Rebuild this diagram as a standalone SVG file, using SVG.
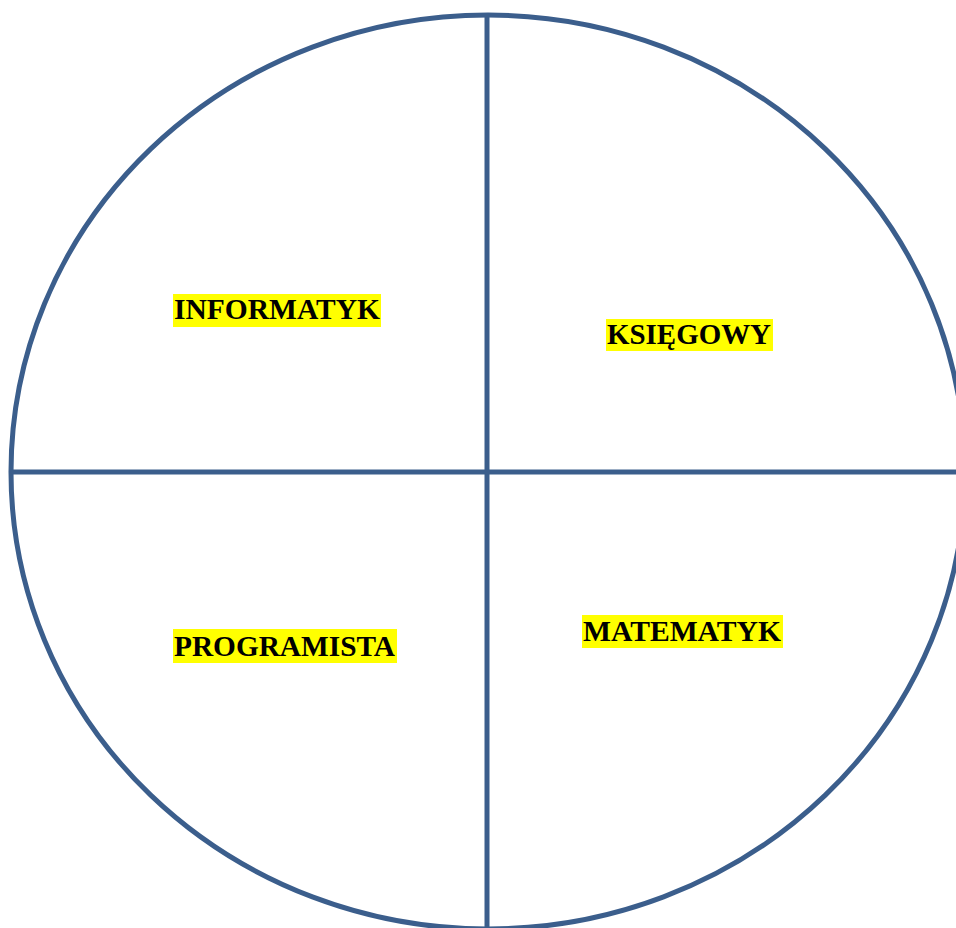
<svg xmlns="http://www.w3.org/2000/svg" width="956" height="928" viewBox="0 0 956 928">
<style>
.ln{stroke:#3B5E8C;stroke-width:5;fill:none}
.hl{fill:#FFFF00}
.lb{font-family:"Liberation Serif","Times New Roman",serif;font-weight:bold;font-size:29.5px;fill:#000}
</style>
<rect width="956" height="928" fill="#fff"/>
<g id="connectors">
<ellipse class="ln" cx="488" cy="472" rx="477" ry="457"/>
<line class="ln" x1="487" y1="15" x2="487" y2="930"/>
<line class="ln" x1="11" y1="472" x2="960" y2="472"/>
</g>
<g id="informatyk">
<rect class="hl" x="173" y="294" width="208" height="33"/>
<text class="lb" x="174" y="319" textLength="206" lengthAdjust="spacingAndGlyphs">INFORMATYK</text>
</g>
<g id="ksiegowy">
<rect class="hl" x="606" y="319" width="167" height="32"/>
<text class="lb" x="607" y="344" textLength="164" lengthAdjust="spacingAndGlyphs">KSIĘGOWY</text>
</g>
<g id="programista">
<rect class="hl" x="173" y="629" width="224" height="34"/>
<text class="lb" x="174" y="656" textLength="221" lengthAdjust="spacingAndGlyphs">PROGRAMISTA</text>
</g>
<g id="matematyk">
<rect class="hl" x="582" y="615" width="201" height="33"/>
<text class="lb" x="583" y="641" textLength="198" lengthAdjust="spacingAndGlyphs">MATEMATYK</text>
</g>
</svg>
